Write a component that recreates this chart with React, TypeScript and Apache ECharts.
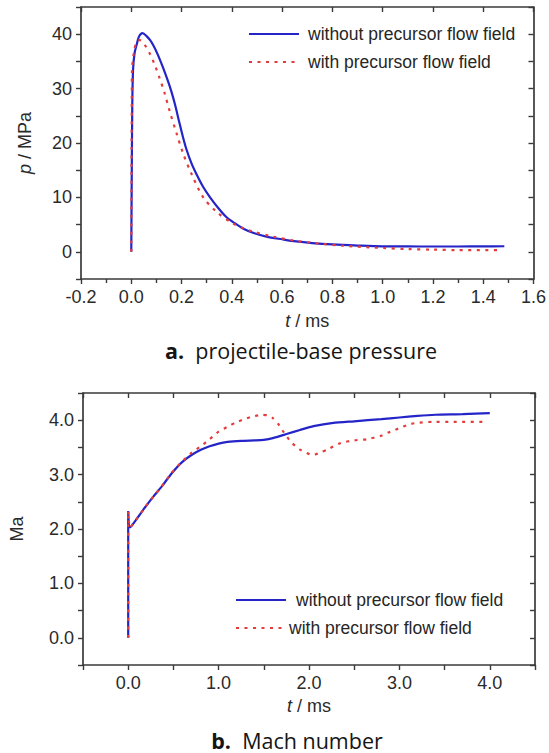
import React, { useEffect, useRef } from 'react';
import * as echarts from 'echarts';

// ---------- data: (a) projectile-base pressure ----------
const NAME_WITHOUT = 'without precursor flow field';
const NAME_WITH = 'with precursor flow field';

const tPressWithout = [0, 0.002, 0.004, 0.007, 0.013, 0.021, 0.031, 0.045, 0.06, 0.075, 0.087, 0.105, 0.126, 0.145, 0.16, 0.175, 0.19, 0.205, 0.219, 0.24, 0.259, 0.285, 0.312, 0.345, 0.378, 0.41, 0.444, 0.49, 0.537, 0.6, 0.656, 0.72, 0.8, 0.9, 1.0, 1.1, 1.2, 1.3, 1.4, 1.484];
const pressWithout = [0, 15, 27, 33.4, 36.5, 38.0, 39.6, 40.2, 39.7, 38.9, 38.0, 36.3, 33.9, 31.5, 29.4, 26.9, 24.0, 21.2, 18.9, 16.2, 14.3, 12.0, 10.1, 8.1, 6.4, 5.3, 4.3, 3.4, 2.8, 2.3, 1.9, 1.6, 1.35, 1.15, 1.0, 0.98, 0.97, 0.97, 1.0, 1.02];

const tPressWith = [0, 0.001, 0.002, 0.003, 0.01, 0.021, 0.034, 0.054, 0.073, 0.093, 0.113, 0.133, 0.153, 0.18, 0.206, 0.239, 0.285, 0.338, 0.405, 0.471, 0.563, 0.656, 0.75, 0.85, 1.0, 1.1, 1.2, 1.3, 1.464];
const pressWith = [0, 15, 28, 33.4, 36.5, 38.6, 38.9, 38.0, 36.5, 34.4, 31.9, 29.1, 25.8, 21.8, 18.1, 14.4, 10.1, 7.4, 5.2, 3.9, 2.8, 2.0, 1.5, 1.1, 0.7, 0.5, 0.4, 0.3, 0.3];

// ---------- data: (b) Mach number ----------
const tMachWithout = [0, 0, 0.02, 0.1, 0.187, 0.28, 0.37, 0.48, 0.59, 0.7, 0.81, 0.9, 1.0, 1.1, 1.25, 1.4, 1.5, 1.6, 1.76, 1.9, 2.05, 2.27, 2.5, 2.8, 3.0, 3.2, 3.4, 3.7, 4.0];
const machWithout = [0, 2.33, 2.03, 2.2, 2.4, 2.6, 2.78, 3.02, 3.22, 3.36, 3.46, 3.52, 3.57, 3.6, 3.62, 3.63, 3.64, 3.67, 3.75, 3.82, 3.89, 3.95, 3.98, 4.02, 4.05, 4.08, 4.1, 4.11, 4.13];

const tMachWith = [0, 0, 0.02, 0.1, 0.187, 0.28, 0.37, 0.48, 0.59, 0.7, 0.81, 0.9, 1.0, 1.1, 1.18, 1.27, 1.36, 1.48, 1.54, 1.6, 1.66, 1.72, 1.8, 1.9, 2.04, 2.12, 2.2, 2.35, 2.5, 2.64, 2.79, 2.9, 3.01, 3.1, 3.19, 3.37, 3.6, 3.96];
const machWith = [0, 2.33, 2.03, 2.2, 2.4, 2.6, 2.78, 3.03, 3.23, 3.4, 3.53, 3.65, 3.79, 3.88, 3.95, 4.01, 4.06, 4.1, 4.09, 4.04, 3.93, 3.78, 3.6, 3.46, 3.36, 3.4, 3.46, 3.58, 3.63, 3.65, 3.71, 3.79, 3.86, 3.92, 3.95, 3.97, 3.97, 3.97];

const xTicksPressure = { min: -0.2, max: 1.6, interval: 0.2 };
const yTicksPressure = { min: -5, max: 45, interval: 5 };
const xTicksMach = { min: -0.5, max: 4.5, interval: 0.5 };
const yTicksMach = { min: -0.5, max: 4.5, interval: 0.5 };

const zip = (a: number[], b: number[]) => a.map((v, i) => [v, b[i]]);

const AX = '#3a3a3a';
const FONT = 'Liberation Sans, Arial, Helvetica, sans-serif';
const CAPTION_FONT = 'Open Sans, sans-serif';
const BLUE = '#2424c8';
const RED = '#e43c3c';

const lineAx = { show: true, onZero: false, lineStyle: { color: AX, width: 1.7 } };

function mainAxis(gridIndex: number, t: any, position: string, fmt: (v: number) => string, name: string, nameGap: number, extra: any = {}) {
  return {
    type: 'value', gridIndex, position, min: t.min, max: t.max, interval: t.interval,
    axisLine: lineAx,
    axisTick: { show: true, inside: false, length: 5, lineStyle: { color: AX, width: 1.4 } },
    splitLine: { show: false },
    axisLabel: { show: true, fontSize: 18, fontFamily: FONT, color: '#2a2a2a', margin: 9, formatter: fmt },
    name, nameLocation: 'middle', nameGap,
    nameTextStyle: { fontSize: 18, fontFamily: FONT, color: '#2a2a2a', rich: { i: { fontStyle: 'italic', fontSize: 18, fontFamily: FONT, color: '#2a2a2a' } } },
    ...extra,
  };
}

function boxAxis(gridIndex: number, t: any, position: string) {
  return {
    type: 'value', gridIndex, position, min: t.min, max: t.max, interval: t.interval,
    axisLine: lineAx,
    axisTick: { show: true, inside: true, length: 5, lineStyle: { color: AX, width: 1.4 } },
    splitLine: { show: false },
    axisLabel: { show: false },
  };
}

export default function App() {
  const ref = useRef<HTMLDivElement>(null);
  useEffect(() => {
    const chart = echarts.init(ref.current!, null, { renderer: 'svg' });
    const solid = { color: BLUE, width: 2.2, type: 'solid' };
    const dotted = { color: RED, width: 2.2, type: [3, 5.5], cap: 'butt' };
    const legendText = (pad: number) => ({ fontSize: 17.5, fontFamily: FONT, color: '#262626', padding: [0, 0, 0, pad] });
    const legendCommon = { orient: 'vertical', padding: 0, itemHeight: 18, selectedMode: false, itemStyle: { opacity: 0 } };
    const option: any = {
      animation: false,
      backgroundColor: '#ffffff',
      grid: [
        { left: 81, top: 7, width: 453, height: 272 },
        { left: 81, top: 393, width: 454, height: 272 },
      ],
      xAxis: [
        mainAxis(0, xTicksPressure, 'bottom', (v) => v.toFixed(1), '{i|t} / ms', 33, {
          minorTick: { show: true, splitNumber: 2, length: 4, lineStyle: { color: AX, width: 1.4 } },
        }),
        boxAxis(0, xTicksPressure, 'top'),
        mainAxis(1, xTicksMach, 'bottom', (v) => {
          const r = Math.round(v * 2) / 2;
          return Number.isInteger(r) && r >= 0 && r <= 4 ? r.toFixed(1) : '';
        }, '{i|t} / ms', 32),
        boxAxis(1, xTicksMach, 'top'),
      ],
      yAxis: [
        mainAxis(0, yTicksPressure, 'left', (v) => {
          const r = Math.round(v);
          return r % 10 === 0 ? String(r) : '';
        }, '{i|p} / MPa', 47),
        boxAxis(0, yTicksPressure, 'right'),
        mainAxis(1, yTicksMach, 'left', (v) => {
          const r = Math.round(v * 2) / 2;
          return Number.isInteger(r) && r >= 0 && r <= 4 ? r.toFixed(1) : '';
        }, 'Ma', 57),
        boxAxis(1, yTicksMach, 'right'),
      ],
      legend: [
        { ...legendCommon, left: 248, top: 25, itemWidth: 50, itemGap: 10, data: [NAME_WITHOUT, NAME_WITH], textStyle: legendText(4) },
        { ...legendCommon, left: 235, top: 591, itemWidth: 50, data: [NAME_WITHOUT], textStyle: legendText(5) },
        { ...legendCommon, left: 235, top: 619, itemWidth: 47, data: [NAME_WITH], textStyle: legendText(1) },
      ],
      series: [
        { name: NAME_WITHOUT, type: 'line', xAxisIndex: 0, yAxisIndex: 0, data: zip(tPressWithout, pressWithout), symbol: 'none', smooth: 0.3, lineStyle: solid, itemStyle: { color: BLUE } },
        { name: NAME_WITH, type: 'line', xAxisIndex: 0, yAxisIndex: 0, data: zip(tPressWith, pressWith), symbol: 'none', smooth: 0.3, lineStyle: dotted, itemStyle: { color: RED } },
        { name: NAME_WITHOUT, type: 'line', xAxisIndex: 2, yAxisIndex: 2, data: zip(tMachWithout, machWithout), symbol: 'none', smooth: 0.2, lineStyle: solid, itemStyle: { color: BLUE } },
        { name: NAME_WITH, type: 'line', xAxisIndex: 2, yAxisIndex: 2, data: zip(tMachWith, machWith), symbol: 'none', smooth: 0.2, lineStyle: dotted, itemStyle: { color: RED } },
      ],
      graphic: [
        {
          type: 'text', x: 301, y: 350,
          style: {
            text: '{b|a.}  projectile-base pressure', align: 'center', verticalAlign: 'middle',
            fontSize: 21.5, fontFamily: CAPTION_FONT, fill: '#151515',
            rich: { b: { fontWeight: 'bold', fontSize: 21.5, fontFamily: CAPTION_FONT, fill: '#151515' } },
          },
        },
        {
          type: 'text', x: 297, y: 740,
          style: {
            text: '{b|b.}  Mach number', align: 'center', verticalAlign: 'middle',
            fontSize: 21.5, fontFamily: CAPTION_FONT, fill: '#151515',
            rich: { b: { fontWeight: 'bold', fontSize: 21.5, fontFamily: CAPTION_FONT, fill: '#151515' } },
          },
        },
      ],
    };
    chart.setOption(option);
    return () => chart.dispose();
  }, []);
  return <div ref={ref} style={{ position: 'absolute', left: 0, top: 0, width: 549, height: 753, background: '#fff' }} />;
}
